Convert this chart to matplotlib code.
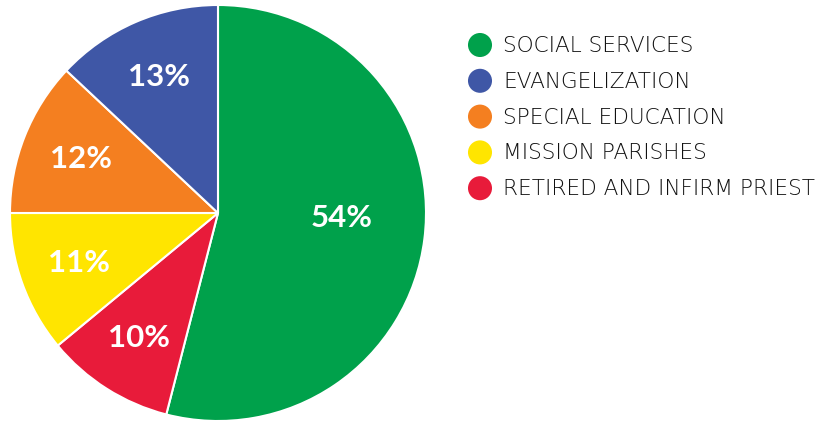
import matplotlib.pyplot as plt
import numpy as np

# Slice data, in drawing order (clockwise from the top)
slice_names = ['SOCIAL SERVICES', 'RETIRED AND INFIRM PRIEST', 'MISSION PARISHES',
               'SPECIAL EDUCATION', 'EVANGELIZATION']
slice_values = [54, 10, 11, 12, 13]
slice_colors = ['#00A14B', '#E81B3A', '#FFE500', '#F47F20', '#3F57A6']

# Legend order as shown in the reference
legend_order = ['SOCIAL SERVICES', 'EVANGELIZATION', 'SPECIAL EDUCATION',
                'MISSION PARISHES', 'RETIRED AND INFIRM PRIEST']

W, H = 820, 421
fig = plt.figure(figsize=(W / 100, H / 100), dpi=100)
ax = fig.add_axes([10 / W, 0.0, 416 / W, 416 / H])

wedges, texts, autotexts = ax.pie(
    slice_values, colors=slice_colors, startangle=90, counterclock=False,
    autopct=lambda p: f'{p:.0f}%', pctdistance=0.71, radius=1,
    wedgeprops=dict(edgecolor='white', linewidth=1.5),
    textprops=dict(color='white', fontsize=22.5, fontweight='bold', family='Lato'))

# the big slice label sits closer to the centre
mid = np.deg2rad((wedges[0].theta1 + wedges[0].theta2) / 2)
autotexts[0].set_position((0.6 * np.cos(mid), 0.6 * np.sin(mid) + 0.05))

ax.set_xlim(-1, 1)
ax.set_ylim(-1, 1)
ax.set_aspect('equal')

# legend drawn by hand in pixel coordinates
lax = fig.add_axes([0, 0, 1, 1])
lax.set_xlim(0, W)
lax.set_ylim(H, 0)
lax.axis('off')
lax.patch.set_alpha(0)

color_of = dict(zip(slice_names, slice_colors))
for i, name in enumerate(legend_order):
    y = 45 + i * 35.8
    lax.scatter([480], [y], s=24 ** 2 * 0.52, color=color_of[name], edgecolors='none')
    lax.text(503, y + 1, name, va='center', ha='left', fontsize=15.6,
             family='DejaVu Sans', fontweight='light', color='#111111')

fig.savefig('out.png', dpi=100, facecolor='white')
